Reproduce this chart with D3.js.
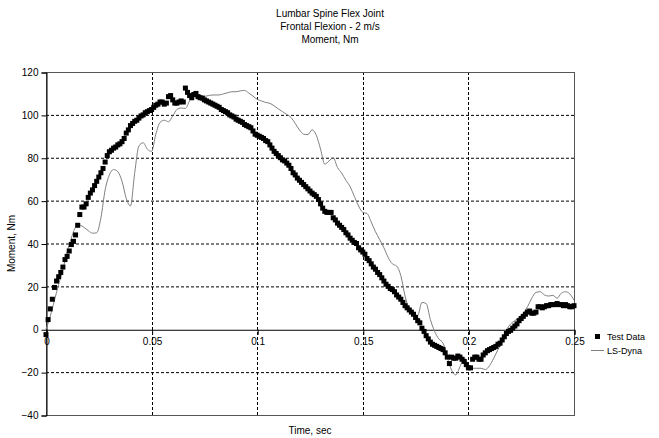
<!DOCTYPE html>
<html>
<head>
<meta charset="utf-8">
<script src="https://cdn.jsdelivr.net/npm/d3@7"></script>
<style>
  body { margin: 0; background: #fff; }
  text { font-family: "Liberation Sans", Arial, sans-serif; font-size: 10px; fill: #000; }
</style>
</head>
<body>
<svg id="chart" width="659" height="438"></svg>
<script>
let titleLines = ["Lumbar Spine Flex Joint", "Frontal Flexion - 2 m/s", "Moment, Nm"];
let xTicks = [0, 0.05, 0.1, 0.15, 0.2, 0.25];
let yTicks = [-40, -20, 0, 20, 40, 60, 80, 100, 120];
let seriesNames = ["Test Data", "LS-Dyna"];

// test data, one sample per ms from t = 0
let testStep = 0.001;
let testValues = [
  -2.5, 4.5, 9.5, 14, 19.5, 22.5, 24.5, 26.5, 29, 32.5,
  34, 36.5, 39.5, 41, 44, 48.5, 53.5, 57, 57, 58.5,
  61.5, 63.5, 65, 67, 69, 71, 73, 75, 78, 81,
  82.8, 83.5, 84.5, 85, 86, 86.5, 87.5, 89, 91.5, 93,
  95, 96, 97, 97.5, 98.5, 99.5, 100, 101, 101.5, 102,
  102.5, 103.5, 104.5, 105, 106, 106, 105, 105.5, 108.5, 109,
  107, 105.5, 105.5, 106, 106.5, 106, 112.5, 110.5, 109, 108,
  109.5, 110, 108.5, 108, 107.8, 107, 106.5, 106, 105.5, 105,
  104.5, 104, 103.5, 102.5, 102, 101.5, 101, 100, 99.5, 99,
  98, 97.5, 97, 96.5, 95.5, 95, 94.5, 94, 92.5, 91,
  90.5, 90, 89.5, 89, 88, 87.5, 86, 84.5, 83, 82,
  81, 80, 79, 78.5, 77.5, 76.5, 75, 73, 72, 70.5,
  69.5, 68.5, 67.5, 66.5, 65.5, 64.5, 63.5, 62.8, 62, 60.5,
  58.5, 56.5, 55, 54.5, 54.5, 54.5, 52, 51, 49.5, 48.5,
  47.5, 46.5, 45, 44, 42.5, 41.5, 40.5, 40, 38, 37,
  36, 35, 33, 32, 30.5, 29, 28, 26.5, 25.5, 24,
  22.5, 21, 20, 19, 18.5, 17.5, 16, 15, 14, 12.5,
  11, 10, 9, 8, 7, 5.5, 4, 3, 0.5, -1,
  -3, -4.5, -6, -7, -7.5, -8, -8.5, -9, -9.5, -11,
  -13, -16, -13, -13.5, -13.5, -12.5, -13, -14, -15, -16.5,
  -18, -18, -14, -13, -13, -14, -14, -12, -11, -10,
  -9.5, -9, -8.5, -8, -7, -6.5, -5, -3.5, -2, -1,
  -0.5, 0.5, 1.5, 2.5, 4, 5, 6, 7, 8, 8.5,
  7.5, 7.5, 8, 10.5, 10.5, 10, 10.5, 11, 11, 11.5,
  11.5, 11.5, 12, 11.5, 11.5, 11, 11.5, 11, 10.5, 10.5,
  11
];

// LS-Dyna, one sample per 2 ms from t = 0
let dynaStep = 0.002;
let dynaValues = [
  0, 6, 13.5, 21, 28, 36, 42.5, 47.5, 48.5, 47.5,
  46, 44.8, 45, 52, 65, 72, 74.5, 73.5, 69, 61,
  57.5, 73, 85.5, 87, 84, 83, 91, 96.5, 97.5, 96.8,
  99.5, 102.5, 103.2, 103, 106.5, 108.5, 108, 108.5, 108.8, 109.2,
  109.3, 109.3, 109.8, 110.3, 110.8, 110.8, 111.2, 111.4, 110.2, 108.8,
  107.2, 106.5, 105.8, 105.4, 104.2, 102.8, 101.5, 100.2, 98.8, 96,
  93, 91, 90.8, 93, 90.5, 84, 77, 78.5, 80, 75.5,
  72.8, 69.5, 66.5, 62, 57.5, 54.5, 54, 50, 45.5, 41.8,
  38, 33.5, 30.5, 29.5, 25, 15.5, 9.5, 7, 6.5, 12.5,
  12, 4.5, -1, -4.5, -6.5, -13, -19, -21.3, -17.5, -13.5,
  -16.7, -18.2, -18.2, -18.2, -18.8, -17, -13.5, -9.5, -5.5, -0.5,
  2.5, 4, 5.5, 7.5, 10.5, 14.5, 17.2, 17.5, 16, 15.5,
  15.8, 14.5, 16.8, 17.5, 16.5, 13.5
];

let margin = { left: 46, right: 85, top: 72, bottom: 23 };
let width = 659, height = 438;

let svg = d3.select("#chart");

let x = d3.scaleLinear().domain([0, 0.25]).range([margin.left, width - margin.right]);
let y = d3.scaleLinear().domain([-40, 120]).range([height - margin.bottom, margin.top]);

// title
svg.append("g")
  .selectAll("text")
  .data(titleLines)
  .enter()
  .append("text")
  .attr("x", 330)
  .attr("y", (d, i) => 17 + i * 13)
  .attr("text-anchor", "middle")
  .attr("fill", "#222")
  .text(d => d);

// horizontal grid (dashed), skip zero line and borders
svg.append("g")
  .selectAll("line")
  .data(yTicks.filter(d => d !== 0 && d !== -40 && d !== 120))
  .enter()
  .append("line")
  .attr("x1", x(0))
  .attr("x2", x(0.25))
  .attr("y1", d => y(d) + 0.5)
  .attr("y2", d => y(d) + 0.5)
  .attr("stroke", "#000")
  .attr("stroke-dasharray", "3,2");

// vertical grid
svg.append("g")
  .selectAll("line")
  .data(xTicks.filter(d => d !== 0 && d !== 0.25))
  .enter()
  .append("line")
  .attr("x1", d => Math.round(x(d)) + 0.5)
  .attr("x2", d => Math.round(x(d)) + 0.5)
  .attr("y1", y(120))
  .attr("y2", y(-40))
  .attr("stroke", "#000")
  .attr("stroke-dasharray", "3,2");

// plot border
svg.append("rect")
  .attr("x", x(0) + 0.5)
  .attr("y", y(120) + 0.5)
  .attr("width", x(0.25) - x(0))
  .attr("height", y(-40) - y(120))
  .attr("fill", "none")
  .attr("stroke", "#555");

// y axis
let yAxis = svg.append("g")
  .attr("transform", "translate(" + (x(0) + 0.5) + ",0.5)")
  .call(d3.axisLeft(y).tickValues(yTicks).tickSize(5).tickPadding(3).tickFormat(d3.format("d")));
yAxis.select(".domain").attr("stroke", "#000");
yAxis.selectAll("text").style("font-size", "10px").attr("font-family", null);

// x axis at zero
let xAxis = svg.append("g")
  .attr("transform", "translate(0.5," + (y(0) + 0.5) + ")")
  .call(d3.axisBottom(x).tickValues(xTicks).tickSize(5).tickPadding(3).tickFormat(d => String(d)));
xAxis.select(".domain").attr("stroke", "#000");
xAxis.selectAll("text").style("font-size", "10px").attr("font-family", null);

// axis titles
svg.append("text")
  .attr("x", (x(0) + x(0.25)) / 2)
  .attr("y", 434)
  .attr("text-anchor", "middle")
  .text("Time, sec");

svg.append("text")
  .attr("transform", "translate(15," + (y(40)) + ") rotate(-90)")
  .attr("text-anchor", "middle")
  .text("Moment, Nm");

// LS-Dyna line
let dynaLine = d3.line()
  .x((d, i) => x(i * dynaStep))
  .y(d => y(d))
  .curve(d3.curveMonotoneX);

svg.append("path")
  .datum(dynaValues)
  .attr("d", dynaLine)
  .attr("fill", "none")
  .attr("stroke", "#808080")
  .attr("stroke-width", 1);

// test data markers
svg.append("g")
  .selectAll("rect")
  .data(testValues)
  .enter()
  .append("rect")
  .attr("x", (d, i) => x(i * testStep) - 2.5)
  .attr("y", d => y(d) - 2.5)
  .attr("width", 5)
  .attr("height", 5)
  .attr("fill", "#000");

// legend
let legend = svg.append("g").attr("transform", "translate(590,336)");
legend.append("rect")
  .attr("x", 5).attr("y", -2).attr("width", 5).attr("height", 5)
  .attr("fill", "#000");
legend.append("line")
  .attr("x1", 1).attr("x2", 14).attr("y1", 14.5).attr("y2", 14.5)
  .attr("stroke", "#808080");
legend.selectAll("text")
  .data(seriesNames)
  .enter()
  .append("text")
  .attr("x", 17)
  .attr("y", (d, i) => 3.5 + i * 14)
  .style("font-size", "9px")
  .text(d => d);
</script>
</body>
</html>
